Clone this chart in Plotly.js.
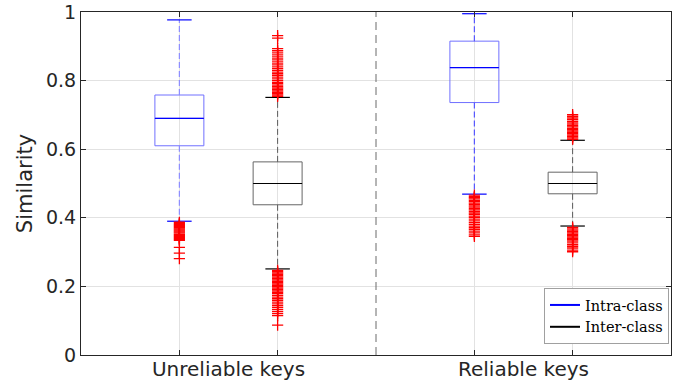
<!DOCTYPE html>
<html>
<head>
<meta charset="utf-8">
<script src="https://cdn.plot.ly/plotly-3.0.1.min.js"></script>
<style>html,body{margin:0;padding:0;background:#fff;}#chart{width:677px;height:392px;}</style>
</head>
<body>
<div id="chart"></div>
<script>
// ---- data ----
const groups = ['Unreliable keys', 'Reliable keys'];
const seriesNames = ['Intra-class', 'Inter-class'];

const intraLow  = [0.390, 0.469];
const intraQ1   = [0.610, 0.736];
const intraMed  = [0.690, 0.838];
const intraQ3   = [0.758, 0.915];
const intraHigh = [0.977, 0.995];

const interLow  = [0.251, 0.376];
const interQ1   = [0.438, 0.470];
const interMed  = [0.500, 0.500];
const interQ3   = [0.563, 0.533];
const interHigh = [0.751, 0.626];

const intraOutUnreliable = [0.387,0.383,0.380,0.377,0.374,0.371,0.368,0.365,0.362,0.359,0.356,0.352,0.349,0.346,0.343,0.340,0.337,0.334,0.314,0.297,0.281];
const intraOutReliable = [0.466,0.462,0.459,0.455,0.451,0.447,0.443,0.439,0.435,0.431,0.427,0.423,0.419,0.414,0.410,0.405,0.401,0.396,0.391,0.386,0.381,0.376,0.371,0.366,0.361,0.356,0.350,0.346];
const interOutUnreliable = [0.754,0.758,0.762,0.766,0.770,0.774,0.778,0.782,0.787,0.791,0.795,0.800,0.805,0.810,0.815,0.820,0.825,0.830,0.835,0.840,0.846,0.851,0.857,0.863,0.869,0.875,0.881,0.887,0.893,0.924,0.931,
  0.247,0.243,0.239,0.235,0.231,0.227,0.223,0.219,0.215,0.211,0.207,0.203,0.199,0.195,0.191,0.187,0.183,0.179,0.174,0.169,0.164,0.159,0.154,0.149,0.144,0.139,0.133,0.127,0.121,0.115,0.087];
const interOutReliable = [0.629,0.633,0.637,0.641,0.645,0.649,0.653,0.657,0.661,0.665,0.669,0.673,0.677,0.681,0.686,0.691,0.696,0.701,
  0.372,0.368,0.364,0.360,0.356,0.352,0.348,0.344,0.340,0.336,0.332,0.327,0.322,0.317,0.312,0.306,0.301];

// ---- layout constants ----
const groupPos = [1, 2];
const offset = 0.1665;
const intraPos = groupPos.map(p => p - offset);
const interPos = groupPos.map(p => p + offset);
const boxW = 0.166;
const capW = 0.083;
const FONT = 'DejaVu Sans, sans-serif';
const AX = '#262626';

function segs(pos, a, b, half) {
  const x = [], y = [];
  pos.forEach((p, i) => { x.push(p - half, p + half, null); y.push(a[i], b[i], null); });
  return {x, y};
}
function vsegs(pos, a, b) {
  const x = [], y = [];
  pos.forEach((p, i) => { x.push(p, p, null); y.push(a[i], b[i], null); });
  return {x, y};
}

const traces = [];

// boxes
traces.push({type:'box', x:intraPos, q1:intraQ1, median:intraMed, q3:intraQ3, lowerfence:intraQ1, upperfence:intraQ3,
  width:boxW, whiskerwidth:0, boxpoints:false, line:{color:'#7070ff', width:1}, fillcolor:'rgba(0,0,0,0)', showlegend:false, hoverinfo:'skip'});
traces.push({type:'box', x:interPos, q1:interQ1, median:interMed, q3:interQ3, lowerfence:interQ1, upperfence:interQ3,
  width:boxW, whiskerwidth:0, boxpoints:false, line:{color:'#666666', width:1}, fillcolor:'rgba(0,0,0,0)', showlegend:false, hoverinfo:'skip'});

// whiskers (dashed)
const intraWhiskerColors = ['#8c8cff', '#5555ff'];
intraPos.forEach((p, i) => {
  const up = vsegs([p], [intraQ3[i]], [intraHigh[i]]);
  const lo = vsegs([p], [intraQ1[i]], [intraLow[i]]);
  traces.push({type:'scatter', mode:'lines', x:up.x.concat(lo.x), y:up.y.concat(lo.y),
    line:{color:intraWhiskerColors[i], width:1.2, dash:'6px,3px'}, showlegend:false, hoverinfo:'skip'});
});
{
  const up = vsegs(interPos, interQ3, interHigh);
  const lo = vsegs(interPos, interQ1, interLow);
  traces.push({type:'scatter', mode:'lines', x:up.x.concat(lo.x), y:up.y.concat(lo.y),
    line:{color:'#5a5a5a', width:1, dash:'6px,3px'}, showlegend:false, hoverinfo:'skip'});
}

// caps
{
  const a = segs(intraPos, intraHigh, intraHigh, capW/2), b = segs(intraPos, intraLow, intraLow, capW/2);
  traces.push({type:'scatter', mode:'lines', x:a.x.concat(b.x), y:a.y.concat(b.y), line:{color:'#0000ff', width:1.2}, showlegend:false, hoverinfo:'skip'});
  const c = segs(interPos, interHigh, interHigh, capW/2), d = segs(interPos, interLow, interLow, capW/2);
  traces.push({type:'scatter', mode:'lines', x:c.x.concat(d.x), y:c.y.concat(d.y), line:{color:'#000000', width:1.2}, showlegend:false, hoverinfo:'skip'});
}

// medians
{
  const m1 = segs(intraPos, intraMed, intraMed, boxW/2);
  traces.push({type:'scatter', mode:'lines', x:m1.x, y:m1.y, line:{color:'#0000ff', width:1.2}, showlegend:false, hoverinfo:'skip'});
  const m2 = segs(interPos, interMed, interMed, boxW/2);
  traces.push({type:'scatter', mode:'lines', x:m2.x, y:m2.y, line:{color:'#000000', width:1.2}, showlegend:false, hoverinfo:'skip'});
}

// outliers
const outlierSets = [
  [intraPos[0], intraOutUnreliable], [intraPos[1], intraOutReliable],
  [interPos[0], interOutUnreliable], [interPos[1], interOutReliable]
];
outlierSets.forEach(([p, vals]) => {
  traces.push({type:'scatter', mode:'markers', x:vals.map(() => p), y:vals,
    marker:{symbol:'cross-thin', size:8, color:'#ff0000', line:{color:'#ff0000', width:1.3}}, showlegend:false, hoverinfo:'skip'});
});

// legend entries
traces.push({type:'scatter', mode:'lines', x:[null], y:[null], name:seriesNames[0], line:{color:'#0000ff', width:2}});
traces.push({type:'scatter', mode:'lines', x:[null], y:[null], name:seriesNames[1], line:{color:'#000000', width:2}});

// group separator (on label axis)
traces.push({type:'scatter', mode:'lines', xaxis:'x2', yaxis:'y', x:[1.5, 1.5], y:[0, 1],
  line:{color:'#6a6a6a', width:1, dash:'8px,5px'}, showlegend:false, hoverinfo:'skip'});

const layout = {
  width:677, height:392,
  margin:{l:81, r:6, t:12, b:37},
  paper_bgcolor:'#ffffff', plot_bgcolor:'#ffffff',
  showlegend:true,
  xaxis:{range:[0.5, 2.5], tickvals:intraPos.concat(interPos), showticklabels:false, ticks:'inside', ticklen:5, tickcolor:AX,
    mirror:'ticks', showline:true, linecolor:AX, linewidth:1, showgrid:true, gridcolor:'#e2e2e2', zeroline:false, fixedrange:true},
  xaxis2:{overlaying:'x', anchor:'y', side:'bottom', range:[0.5, 2.5], tickvals:groupPos, ticktext:groups, ticks:'',
    showgrid:false, showline:false, zeroline:false, tickfont:{family:FONT, size:20, color:AX}},
  yaxis:{range:[0, 1], tickvals:[0, 0.2, 0.4, 0.6, 0.8, 1], ticktext:['0','0.2','0.4','0.6','0.8','1'],
    ticks:'inside', ticklen:5, tickcolor:AX, mirror:'ticks', showline:true, linecolor:AX, linewidth:1,
    showgrid:true, gridcolor:'#e2e2e2', zeroline:false, tickfont:{family:FONT, size:19, color:AX},
    title:{text:'Similarity', font:{family:FONT, size:21, color:AX}, standoff:7}, automargin:false},
  legend:{x:0.9966, xanchor:'right', y:0.032, yanchor:'bottom', bgcolor:'#ffffff', bordercolor:'#a0a0a0', borderwidth:1,
    font:{family:'DejaVu Serif, serif', size:14.5, color:'#000'}, tracegroupgap:0, itemwidth:30}
};

Plotly.newPlot('chart', traces, layout, {staticPlot:true, displayModeBar:false});
</script>
</body>
</html>
